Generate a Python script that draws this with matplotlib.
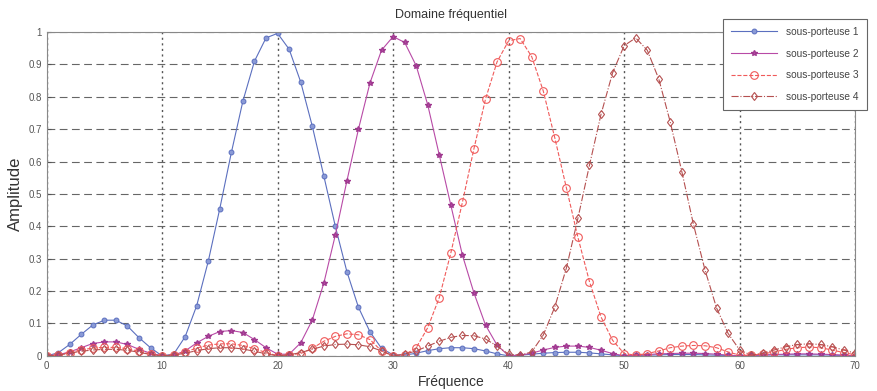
import matplotlib
matplotlib.use("Agg")
import matplotlib.pyplot as plt
import numpy as np

plt.rcParams["font.family"] = ["Liberation Sans", "DejaVu Sans"]

freq = list(range(71))

# amplitudes, one value per integer frequency 0..70
sp1 = [0, 0.009, 0.035, 0.066, 0.095, 0.11, 0.11, 0.092, 0.056, 0.025,
       0, 0.005, 0.059, 0.155, 0.292, 0.455, 0.628, 0.787, 0.91, 0.982,
       0.996, 0.947, 0.846, 0.71, 0.556, 0.40, 0.26, 0.15, 0.074, 0.023,
       0.003, 0.002, 0.008, 0.016, 0.022, 0.025, 0.025, 0.022, 0.015, 0.006,
       0, 0.002, 0.005, 0.008, 0.01, 0.011, 0.011, 0.009, 0.006, 0.003,
       0, 0.001, 0.002, 0.003, 0.004, 0.004, 0.004, 0.003, 0.002, 0.001,
       0, 0.001, 0.002, 0.003, 0.003, 0.003, 0.003, 0.003, 0.002, 0.001, 0]
sp2 = [0, 0.003, 0.012, 0.025, 0.038, 0.043, 0.043, 0.035, 0.02, 0.008,
       0, 0.002, 0.015, 0.04, 0.06, 0.075, 0.078, 0.072, 0.05, 0.025,
       0.005, 0.005, 0.04, 0.11, 0.224, 0.373, 0.54, 0.70, 0.843, 0.944,
       0.986, 0.968, 0.896, 0.775, 0.62, 0.465, 0.311, 0.194, 0.095, 0.033,
       0, 0.002, 0.008, 0.018, 0.026, 0.03, 0.03, 0.026, 0.017, 0.007,
       0, 0.002, 0.004, 0.006, 0.007, 0.008, 0.008, 0.007, 0.005, 0.002,
       0, 0.001, 0.003, 0.004, 0.005, 0.006, 0.006, 0.005, 0.004, 0.002, 0]
sp3 = [0, 0.003, 0.01, 0.018, 0.024, 0.026, 0.026, 0.022, 0.014, 0.005,
       0, 0.003, 0.012, 0.024, 0.033, 0.037, 0.037, 0.032, 0.022, 0.01,
       0, 0.003, 0.007, 0.023, 0.045, 0.06, 0.068, 0.065, 0.05, 0.015,
       0, 0.003, 0.025, 0.087, 0.18, 0.318, 0.474, 0.64, 0.793, 0.908,
       0.973, 0.98, 0.924, 0.818, 0.673, 0.519, 0.366, 0.229, 0.12, 0.048,
       0.007, 0.002, 0.007, 0.015, 0.025, 0.03, 0.032, 0.031, 0.025, 0.012,
       0.002, 0.002, 0.006, 0.012, 0.02, 0.025, 0.027, 0.025, 0.018, 0.01, 0.003]
sp4 = [0, 0.002, 0.008, 0.014, 0.018, 0.02, 0.02, 0.017, 0.011, 0.004,
       0, 0.002, 0.008, 0.016, 0.022, 0.025, 0.025, 0.021, 0.014, 0.006,
       0, 0.003, 0.01, 0.02, 0.03, 0.035, 0.036, 0.034, 0.028, 0.015,
       0, 0.005, 0.015, 0.03, 0.045, 0.057, 0.063, 0.062, 0.052, 0.03,
       0.005, 0.002, 0.012, 0.064, 0.151, 0.271, 0.425, 0.589, 0.746, 0.874,
       0.958, 0.982, 0.944, 0.855, 0.721, 0.568, 0.406, 0.265, 0.148, 0.069,
       0.018, 0.002, 0.008, 0.018, 0.028, 0.035, 0.037, 0.035, 0.028, 0.018, 0.008]

labels = ["sous-porteuse 1", "sous-porteuse 2", "sous-porteuse 3", "sous-porteuse 4"]

fig = plt.figure(figsize=(8.78, 3.91), dpi=100)
ax = fig.add_axes([0.053, 0.090, 0.921, 0.828])

ax.plot(freq, sp1, "-o", color="#5b6fbf", lw=0.8, ms=3.5,
        mfc="#8a9ad6", mec="#5b6fbf", mew=0.7, label=labels[0])
ax.plot(freq, sp2, "-*", color="#b84aa6", lw=0.8, ms=4,
        mec="#a03a90", label=labels[1])
ax.plot(freq, sp3, "--o", color="#f05a5a", lw=0.8, ms=5.5,
        mfc="none", mec="#f05a5a", mew=0.8, label=labels[2])
ax.plot(freq, sp4, "-.d", color="#b55050", lw=0.8, ms=4.5,
        mfc="none", mec="#b55050", mew=0.8, label=labels[3])

ax.set_xlim(0, 70)
ax.set_ylim(0, 1)
ax.set_xticks(np.arange(0, 71, 10))
ax.set_yticks(np.arange(0, 1.01, 0.1))
ax.set_yticklabels(["0", "0.1", "0.2", "0.3", "0.4", "0.5", "0.6", "0.7", "0.8", "0.9", "1"])
ax.tick_params(direction="in", labelsize=7, colors="#555555", length=3)

ax.yaxis.grid(True, linestyle=(0, (7, 4)), color="#666666", lw=0.8)
ax.xaxis.grid(True, linestyle=(0, (1.5, 2.5)), color="#555555", lw=1.0)
for s in ax.spines.values():
    s.set_color("#888888")

ax.set_title("Domaine fréquentiel", fontsize=9, color="#333333", pad=10)
ax.set_xlabel("Fréquence", fontsize=10, color="#333333", labelpad=3)
ax.set_ylabel("Amplitude", fontsize=12, color="#333333", labelpad=4)

leg = ax.legend(loc="upper left", bbox_to_anchor=(0.823, 0.952),
                bbox_transform=fig.transFigure, fontsize=7.3,
                labelspacing=1.15, handlelength=4.6, borderpad=0.8,
                handletextpad=0.9, borderaxespad=0,
                fancybox=False, framealpha=1, edgecolor="#666666")
leg.get_frame().set_linewidth(0.8)
for t in leg.get_texts():
    t.set_color("#444444")

fig.savefig("out.png", dpi=100)
